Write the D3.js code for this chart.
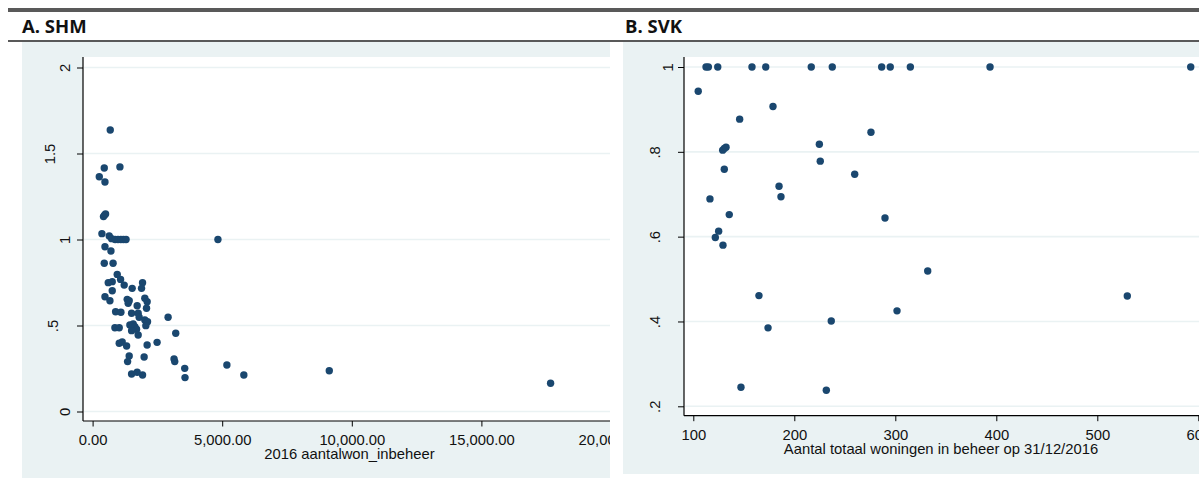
<!DOCTYPE html>
<html>
<head>
<meta charset="utf-8">
<script src="https://cdn.jsdelivr.net/npm/d3@7"></script>
<style>
  body { margin: 0; background: #fff; }
  svg { display: block; }
  .tick text, .lbl { font-family: "Liberation Sans", Arial, sans-serif; fill: #111; }
</style>
</head>
<body>
<svg id="chart" width="1199" height="479"></svg>
<script>
// A. SHM : x = 2016 aantalwon_inbeheer, y = ratio
var shmX = [681, 450, 1054, 258, 477, 420, 460, 500, 360, 642, 734, 870, 980, 1090, 1190, 1290, 4835,
  477, 708, 450, 790, 950, 1080, 604, 758, 1219, 758, 1527, 1927, 1888, 477, 669, 1335, 1412, 1373,
  1719, 2015, 2104, 2080, 888, 1092, 1504, 1758, 1796, 2015, 2119, 2912, 1438, 1565, 1631, 1696,
  1504, 2054, 861, 1027, 1758, 3208, 1027, 1142, 1312, 2104, 2488, 1988, 1412, 1350, 3142, 3169,
  3554, 3565, 5181, 5835, 1504, 1719, 1927, 9131, 17669];
var shmY = [1.637, 1.416, 1.422, 1.365, 1.334, 1.133, 1.142, 1.148, 1.034, 1.02, 1.005, 1, 1, 1, 1, 1, 1,
  0.958, 0.933, 0.862, 0.862, 0.797, 0.768, 0.749, 0.755, 0.735, 0.702, 0.716, 0.749, 0.716, 0.667, 0.644, 0.652, 0.644, 0.629,
  0.615, 0.658, 0.638, 0.6, 0.58, 0.577, 0.571, 0.571, 0.548, 0.532, 0.522, 0.548, 0.503, 0.509, 0.493, 0.478,
  0.47, 0.499, 0.487, 0.487, 0.445, 0.455, 0.397, 0.404, 0.381, 0.387, 0.402, 0.317, 0.323, 0.29, 0.305, 0.29,
  0.251, 0.197, 0.27, 0.212, 0.218, 0.228, 0.212, 0.237, 0.164];

// B. SVK : x = Aantal totaal woningen in beheer, y = ratio
var svkX = [112.6, 114.9, 124.2, 158.1, 171.7, 216.8, 237.6, 286.5, 295, 314.9, 393.8, 592.5,
  104.9, 178.9, 145.9, 275.9, 224.8, 129.1, 130.7, 132.4, 225.7, 130.7, 259.8, 184.9, 186.8, 116.5,
  135.6, 289.8, 125.1, 121.8, 129.4, 165, 174, 236.6, 301.7, 147.2, 231.7, 332.1, 529.7];
var svkY = [1, 1, 1, 1, 1, 1, 1, 1, 1, 1, 1, 1,
  0.943, 0.907, 0.877, 0.846, 0.818, 0.804, 0.808, 0.811, 0.778, 0.759, 0.747, 0.719, 0.694, 0.689,
  0.652, 0.644, 0.613, 0.598, 0.58, 0.461, 0.385, 0.401, 0.425, 0.245, 0.238, 0.519, 0.46];

var shmXTicks = [0, 5000, 10000, 15000, 20000];
var shmYTicks = [0, 0.5, 1, 1.5, 2];
var svkXTicks = [100, 200, 300, 400, 500, 600];
var svkYTicks = [0.2, 0.4, 0.6, 0.8, 1];

var bg = "#eaf2f3";
var dotColor = "#1a476f";

var svg = d3.select("#chart");

// header rules
svg.append("rect").attr("x", 8).attr("y", 8).attr("width", 1191).attr("height", 4).attr("fill", "#595959");
svg.append("rect").attr("x", 8).attr("y", 40).attr("width", 1191).attr("height", 2).attr("fill", "#595959");

function stataNum(v) {
  // 0.5 -> ".5"
  var s = String(+v.toFixed(2));
  return s.replace(/^0\./, ".");
}

function drawPanel(cfg) {
  var clipId = "clip-" + cfg.id;
  svg.append("clipPath").attr("id", clipId)
    .append("rect")
    .attr("x", cfg.bg[0]).attr("y", cfg.bg[1])
    .attr("width", cfg.bg[2] - cfg.bg[0]).attr("height", cfg.bg[3] - cfg.bg[1]);

  svg.append("text")
    .attr("x", cfg.titleX).attr("y", 33)
    .attr("font-family", "'Open Sans', sans-serif")
    .attr("font-weight", "bold")
    .attr("font-size", "18.5px")
    .attr("fill", "#111")
    .text(cfg.title);

  var g = svg.append("g").attr("clip-path", "url(#" + clipId + ")");

  g.append("rect")
    .attr("x", cfg.bg[0]).attr("y", cfg.bg[1])
    .attr("width", cfg.bg[2] - cfg.bg[0]).attr("height", cfg.bg[3] - cfg.bg[1])
    .attr("fill", bg);

  var x = d3.scaleLinear().domain(cfg.xDomain).range(cfg.xRange);
  var y = d3.scaleLinear().domain(cfg.yDomain).range(cfg.yRange);

  var left = cfg.plot[0], top = cfg.plot[1], right = cfg.plot[2], bottom = cfg.plot[3];

  // plot region
  g.append("rect")
    .attr("x", left).attr("y", top)
    .attr("width", right - left).attr("height", bottom - top)
    .attr("fill", "#fff");

  // grid
  g.append("g").selectAll("line")
    .data(cfg.yTicks)
    .enter()
    .append("line")
    .attr("x1", left + 1).attr("x2", right)
    .attr("y1", function (d) { return y(d); })
    .attr("y2", function (d) { return y(d); })
    .attr("stroke", bg)
    .attr("stroke-width", 1.6);

  // points
  var pts = cfg.xs.map(function (d, i) { return { x: d, y: cfg.ys[i] }; });
  g.append("g").selectAll("circle")
    .data(pts)
    .enter()
    .append("circle")
    .attr("cx", function (d) { return x(d.x); })
    .attr("cy", function (d) { return y(d.y); })
    .attr("r", 3.7)
    .attr("fill", dotColor);

  // x axis
  var xAxis = g.append("g")
    .attr("transform", "translate(0," + bottom + ")")
    .call(d3.axisBottom(x).tickValues(cfg.xTicks).tickSize(5.5).tickPadding(8).tickFormat(cfg.xFormat));
  xAxis.select(".domain").remove();
  xAxis.selectAll(".tick line").attr("stroke", "#000");
  xAxis.selectAll(".tick text").attr("font-size", "14.8px");
  g.append("line")
    .attr("x1", left).attr("x2", right)
    .attr("y1", bottom).attr("y2", bottom)
    .attr("stroke", "#000").attr("stroke-width", 1.2);

  // y axis
  var yAxis = g.append("g")
    .attr("transform", "translate(" + left + ",0)")
    .call(d3.axisLeft(y).tickValues(cfg.yTicks).tickSize(6).tickFormat(stataNum));
  yAxis.select(".domain").remove();
  yAxis.selectAll(".tick line").attr("stroke", "#000");
  yAxis.selectAll(".tick text")
    .attr("font-size", "14.8px")
    .attr("text-anchor", "middle")
    .attr("dy", null)
    .attr("x", null)
    .attr("transform", function (d) {
      var n = stataNum(d).length;
      var off = n === 1 ? cfg.yOff[0] : (n === 2 ? cfg.yOff[1] : cfg.yOff[2]);
      return "translate(" + (-off) + ",0) rotate(-90)";
    });
  g.append("line")
    .attr("x1", left).attr("x2", left)
    .attr("y1", top).attr("y2", bottom)
    .attr("stroke", "#000").attr("stroke-width", 1.2);

  // axis title
  g.append("text")
    .attr("class", "lbl")
    .attr("x", cfg.xTitleX).attr("y", cfg.xTitleY)
    .attr("text-anchor", "middle")
    .attr("font-size", "14.8px")
    .text(cfg.xTitle);
}

drawPanel({
  id: "shm",
  title: "A. SHM",
  titleX: 22,
  bg: [22, 42, 610, 478],
  plot: [83, 57, 640, 421],
  xs: shmX, ys: shmY,
  xDomain: [0, 20000], xRange: [92.6, 611],
  yDomain: [0, 2], yRange: [411.5, 67.5],
  xTicks: shmXTicks, yTicks: shmYTicks,
  xFormat: d3.format(",.2f"),
  yOff: [13, 25, 28],
  xTitle: "2016 aantalwon_inbeheer",
  xTitleX: 349.5, xTitleY: 459
});

drawPanel({
  id: "svk",
  title: "B. SVK",
  titleX: 625,
  bg: [623, 42, 1199, 474],
  plot: [684, 57, 1199, 415.7],
  xs: svkX, ys: svkY,
  xDomain: [100, 600], xRange: [693.3, 1198.3],
  yDomain: [0.2, 1], yRange: [406.3, 67],
  xTicks: svkXTicks, yTicks: svkYTicks,
  xFormat: d3.format("d"),
  yOff: [11, 24, 28],
  xTitle: "Aantal totaal woningen in beheer op 31/12/2016",
  xTitleX: 941, xTitleY: 454
});
</script>
</body>
</html>
